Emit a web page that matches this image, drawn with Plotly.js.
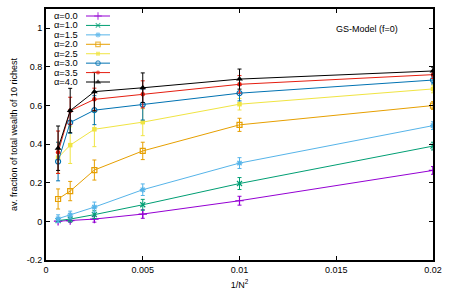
<!DOCTYPE html>
<html><head><meta charset="utf-8">
<script src="https://cdn.plot.ly/plotly-3.0.1.min.js"></script>
<style>html,body{margin:0;padding:0;background:#fff}#plot{width:450px;height:300px}</style>
</head><body><div id="plot"></div>
<script>
const xVals = [0.000625, 0.00125, 0.0025, 0.005, 0.01, 0.02];
const labels = ['α=0.0','α=1.0','α=1.5','α=2.0','α=2.5','α=3.0','α=3.5','α=4.0'];
const a00 = [0.001, 0.004, 0.012, 0.038, 0.107, 0.264];
const e00 = [0.005, 0.008, 0.016, 0.022, 0.023, 0.02];
const a10 = [0.004, 0.012, 0.035, 0.086, 0.196, 0.39];
const e10 = [0.008, 0.015, 0.02, 0.028, 0.031, 0.02];
const a15 = [0.014, 0.033, 0.074, 0.164, 0.302, 0.496];
const e15 = [0.02, 0.02, 0.026, 0.03, 0.028, 0.02];
const a20 = [0.116, 0.157, 0.266, 0.365, 0.5, 0.6];
const e20 = [0.052, 0.05, 0.052, 0.045, 0.034, 0.02];
const a25 = [0.33, 0.395, 0.477, 0.514, 0.607, 0.686];
const e25 = [0.08, 0.095, 0.09, 0.07, 0.03, 0.02];
const a30 = [0.31, 0.512, 0.576, 0.605, 0.664, 0.732];
const e30 = [0.1, 0.055, 0.075, 0.08, 0.04, 0.02];
const a35 = [0.358, 0.573, 0.632, 0.658, 0.71, 0.76];
const e35 = [0.11, 0.07, 0.058, 0.07, 0.045, 0.02];
const a40 = [0.379, 0.574, 0.672, 0.692, 0.737, 0.779];
const e40 = [0.115, 0.115, 0.1, 0.077, 0.052, 0.02];
const yTickVals = [-0.2, 0, 0.2, 0.4, 0.6, 0.8, 1];
const yTickText = ['-0.2', '0', '0.2', '0.4', '0.6', '0.8', '1'];
const xTickVals = [0, 0.005, 0.01, 0.015, 0.02];
const xTickText = ['0', '0.005', '0.01', '0.015', '0.02'];

const series = [a00, a10, a15, a20, a25, a30, a35, a40];
const errs = [e00, e10, e15, e20, e25, e30, e35, e40];
const colors = ['#9400d3', '#009e73', '#56b4e9', '#e69f00', '#f0e442', '#0072b2', '#e51e10', '#000000'];
const symbols = ['cross-thin-open', 'x-thin-open', 'asterisk-open', 'square-open', 'square', 'circle-open', 'circle', 'triangle-up'];
const sizes = [6, 5, 5, 5, 4.5, 5, 4.5, 6];

const FONT = 'Liberation Sans, Arial, sans-serif';
const traces = [];
series.forEach((ys, i) => {
  const open = symbols[i].indexOf('open') >= 0;
  traces.push({
    x: xVals, y: ys, type: 'scatter', mode: 'lines+markers', showlegend: false,
    line: {color: colors[i], width: 1},
    marker: {symbol: symbols[i], size: sizes[i], color: colors[i], line: {color: colors[i], width: open ? 1.2 : 0}},
    error_y: {type: 'data', array: errs[i], visible: true, color: colors[i], thickness: 1, width: 2}
  });
});
// legend samples drawn on an overlay axis measured in pixels
const legTop = 16, legStep = 9.43, legX0 = 86, legX1 = 110;
const annotations = [];
labels.forEach((lab, i) => {
  const yy = legTop + legStep * i;
  const open = symbols[i].indexOf('open') >= 0;
  traces.push({
    x: [legX0, (legX0 + legX1) / 2, legX1], y: [yy, yy, yy], xaxis: 'x2', yaxis: 'y2',
    type: 'scatter', mode: 'lines+markers', showlegend: false, hoverinfo: 'skip',
    line: {color: colors[i], width: 1},
    marker: {symbol: symbols[i], size: [0, sizes[i] - 0.5, 0], color: colors[i], line: {color: colors[i], width: open ? 1.2 : 0}}
  });
  annotations.push({xref: 'x2', yref: 'y2', x: 53, y: yy, text: lab, showarrow: false,
    xanchor: 'left', yanchor: 'middle', borderpad: 0, font: {family: FONT, size: 9.3, color: '#000'}});
});
annotations.push({xref: 'paper', yref: 'paper', x: 0.915, y: 0.92, text: 'GS-Model (f=0)', showarrow: false,
  xanchor: 'right', yanchor: 'middle', font: {family: FONT, size: 9, color: '#000'}});

const layout = {
  width: 450, height: 300,
  margin: {l: 46, r: 17, t: 9, b: 40},
  paper_bgcolor: '#fff', plot_bgcolor: '#fff',
  font: {family: FONT, size: 9, color: '#000'},
  showlegend: false,
  xaxis: {range: [0, 0.02], tickvals: xTickVals, ticktext: xTickText, ticks: 'inside', ticklen: 4,
    tickcolor: '#000', showgrid: false, zeroline: false, showline: true, linecolor: '#000', linewidth: 2,
    mirror: 'ticks', title: {text: '1/N<sup>2</sup>', font: {family: FONT, size: 9}, standoff: 8},
    tickfont: {family: FONT, size: 9}},
  yaxis: {range: [-0.2, 1.1], tickvals: yTickVals, ticktext: yTickText, ticks: 'inside', ticklen: 4,
    tickcolor: '#000', showgrid: false, zeroline: false, showline: true, linecolor: '#000', linewidth: 2,
    mirror: 'ticks', title: {text: 'av. fraction of total wealth of 10 richest', font: {family: FONT, size: 9}, standoff: 8},
    tickfont: {family: FONT, size: 9}},
  xaxis2: {overlaying: 'x', range: [46, 433], visible: false, fixedrange: true},
  yaxis2: {overlaying: 'y', range: [260, 9], visible: false, fixedrange: true},
  annotations: annotations
};
Plotly.newPlot('plot', traces, layout, {staticPlot: true, displayModeBar: false});
</script></body></html>
